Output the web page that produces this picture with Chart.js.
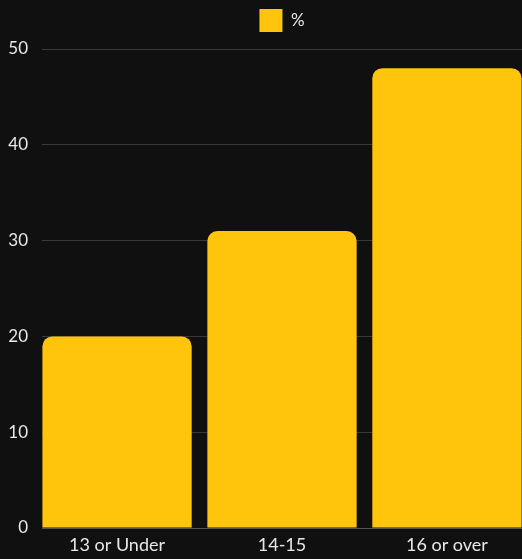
<!DOCTYPE html>
<html>
<head>
<meta charset="utf-8">
<script src="https://cdn.jsdelivr.net/npm/chart.js@4"></script>
<style>
  html, body { margin: 0; padding: 0; background: #101010; }
  #wrap { width: 522px; height: 559px; }
</style>
</head>
<body>
<div id="wrap"><canvas id="ageChart"></canvas></div>
<script>
// Age groups and their share in percent
const ageGroups = ['13 or Under', '14-15', '16 or over'];
const percents = [20, 31, 48];
const yTicks = [0, 10, 20, 30, 40, 50];

const barColor = '#FFC50D';
const textColor = '#E8E8E8';
const fontFamily = 'Lato, "Noto Sans", sans-serif';

// bars sit on a numeric x axis so each group lands on its index
const points = ageGroups.map((g, i) => ({ x: i, y: percents[i] }));

// a little extra room under the legend
const legendSpacer = {
  id: 'legendSpacer',
  beforeInit(chart) {
    const fit = chart.legend.fit;
    chart.legend.fit = function () {
      fit.bind(this)();
      this.height += 7;
    };
  }
};

const ctx = document.getElementById('ageChart').getContext('2d');
new Chart(ctx, {
  type: 'bar',
  data: {
    datasets: [{
      label: '%',
      data: points,
      backgroundColor: barColor,
      borderColor: barColor,
      borderWidth: 0,
      borderRadius: 10,
      borderSkipped: 'start',
      categoryPercentage: 1,
      barPercentage: 0.905
    }]
  },
  options: {
    responsive: true,
    maintainAspectRatio: false,
    animation: false,
    layout: { padding: 0 },
    plugins: {
      legend: {
        position: 'top',
        fullSize: false,
        labels: {
          color: textColor,
          boxWidth: 23,
          boxHeight: 23,
          padding: 9,
          font: { family: fontFamily, size: 17 }
        }
      },
      tooltip: { enabled: false }
    },
    scales: {
      x: {
        type: 'linear',
        offset: false,
        min: -0.455,
        max: 2.455,
        afterFit: axis => { axis.height = 31; },
        grid: { display: false, drawTicks: false },
        border: { display: true, color: '#555555', width: 1 },
        ticks: {
          stepSize: 1,
          includeBounds: false,
          color: textColor,
          padding: 6,
          font: { family: fontFamily, size: 18 },
          callback: v => ageGroups[v] ?? ''
        }
      },
      y: {
        min: 0,
        max: 50,
        afterFit: axis => { axis.width = 42; },
        afterBuildTicks: axis => { axis.ticks = yTicks.map(v => ({ value: v })); },
        grid: { color: '#393939', drawTicks: false },
        border: { display: false },
        ticks: {
          color: textColor,
          padding: 14,
          font: { family: fontFamily, size: 17 }
        }
      }
    }
  },
  plugins: [legendSpacer]
});
</script>
</body>
</html>
